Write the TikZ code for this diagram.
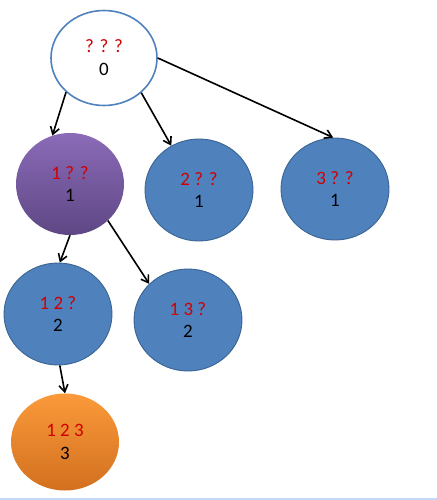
\documentclass[tikz,border=0pt]{standalone}
\usepackage{fontspec}
\setmainfont{Carlito}
\usetikzlibrary{shapes.geometric,arrows.meta}
\definecolor{qred}{HTML}{D00000}
\definecolor{qblue}{HTML}{4F81BD}
\definecolor{qblueline}{HTML}{3A6491}
\definecolor{purtop}{HTML}{8B6BB8}
\definecolor{purbot}{HTML}{5E4784}
\definecolor{ortop}{HTML}{FA9A3A}
\definecolor{orbot}{HTML}{D2701F}
\definecolor{bottomrule}{HTML}{C4DAF4}
\tikzset{
  state/.style={ellipse, inner sep=0pt, minimum width=108bp, minimum height=102bp,
    align=center, font=\fontsize{19}{23}\selectfont},
  rootstate/.style={state, draw=qblue, line width=1.6bp, fill=white, minimum width=106bp, minimum height=95bp},
  bluestate/.style={state, draw=qblueline, line width=0.9bp, fill=qblue},
  purplestate/.style={state, top color=purtop, bottom color=purbot},
  orangestate/.style={state, top color=ortop, bottom color=orbot, minimum height=97bp},
  arr/.style={line width=1.6bp, -{Straight Barb[length=7bp,width=9bp,line width=1.6bp]}},
}
\newcommand{\qq}[2]{{\color{qred}#1}\\#2}
\begin{document}
\begin{tikzpicture}[x=1bp,y=-1bp]
  \useasboundingbox (0,0) rectangle (437,500);
  \fill[white] (0,0) rectangle (437,500);
  \fill[fill=bottomrule] (0,497.5) rectangle (437,500);
  \node[rootstate] (root) at (104,58) {\qq{? ? ?}{0}};
  \node[purplestate] (n1) at (70,184) {\qq{1 ? ?}{1}};
  \node[bluestate] (n2) at (199,190) {\qq{2 ? ?}{1}};
  \node[bluestate] (n3) at (335,189) {\qq{3 ? ?}{1}};
  \node[bluestate] (n12) at (58,314) {\qq{1 2 ?}{2}};
  \node[bluestate] (n13) at (188,320) {\qq{1 3 ?}{2}};
  \node[orangestate] (n123) at (65,442) {\qq{1 2 3}{3}};
  \draw[arr] (root.222) -- (n1.110);
  \draw[arr] (root.317) -- (n2.122);
  \draw[arr] (root.0) -- (n3.92);
  \draw[arr] (n1.270) -- (n12.88);
  \draw[arr] (n1.316) -- (n13.137);
  \draw[arr] (n12.272) -- (n123.90);
\end{tikzpicture}
\end{document}
